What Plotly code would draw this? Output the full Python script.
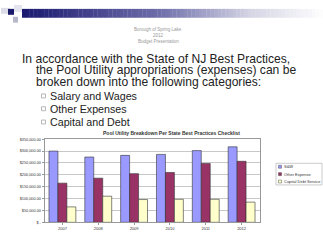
import plotly.graph_objects as go

# ---------------- data ----------------
years = ["2007", "2008", "2009", "2010", "2011", "2012"]
salary_wages = [300000, 275000, 282000, 286000, 302000, 318000]
other_expense = [165000, 186000, 205000, 210000, 248000, 257000]
capital_debt = [65000, 110000, 96000, 97000, 97000, 85000]
series_names = ["S&W", "Other Expense", "Capital Debt Service"]
series_colors = ["#9999FF", "#993366", "#FFFFCC"]
ytick_vals = [0, 50000, 100000, 150000, 200000, 250000, 300000, 350000]
ytick_text = ["$ -", "$50,000.00", "$100,000.00", "$150,000.00",
              "$200,000.00", "$250,000.00", "$300,000.00", "$350,000.00"]
chart_title = "Pool Utility Breakdown Per State Best Practices Checklist"
header_lines = ["Borough of Spring Lake", "2012", "Budget Presentation"]
body_lines = ["In accordance with the State of NJ Best Practices,",
              "the Pool Utility appropriations (expenses) can be",
              "broken down into the following categories:"]
bullets = ["Salary and Wages", "Other Expenses", "Capital and Debt"]

W, H = 323, 244


def px(x):
    return x / W


def py(y):
    return 1 - y / H


fig = go.Figure()
for name, vals, col in zip(series_names, [salary_wages, other_expense, capital_debt], series_colors):
    fig.add_trace(go.Bar(x=years, y=vals, name=name, marker_color=col,
                         marker_line=dict(color="#333333", width=0.6)))

shapes = []
annotations = []

# header gradient bar
stops = [(0.0, (26, 26, 112)), (0.45, (110, 110, 170)), (0.75, (212, 212, 228)), (1.0, (255, 255, 255))]


def grad(t):
    for (t0, c0), (t1, c1) in zip(stops[:-1], stops[1:]):
        if t0 <= t <= t1:
            f = (t - t0) / (t1 - t0)
            return "rgb(%d,%d,%d)" % tuple(round(a + (b - a) * f) for a, b in zip(c0, c1))
    return "rgb(255,255,255)"


N = 80
x0, x1 = 22, 323
for i in range(N):
    a = x0 + (x1 - x0) * i / N
    b = x0 + (x1 - x0) * (i + 1) / N + 0.3
    shapes.append(dict(type="rect", xref="paper", yref="paper", x0=px(a), x1=px(b),
                       y0=py(16), y1=py(7), line_width=0, fillcolor=grad(i / N), layer="below"))

# decorative squares
for (a, b, c, d, col) in [(1, 10, 6, 12, "#dcdce8"), (8, 14, 7, 13, "#1a1a6a"),
                          (14, 22, 3, 10, "#e4e4ee"), (13, 18, 15, 21, "#b8b8cc")]:
    shapes.append(dict(type="rect", xref="paper", yref="paper", x0=px(a), x1=px(b),
                       y0=py(d), y1=py(c), line_width=0, fillcolor=col, layer="below"))

# header small text
for txt, yy in zip(header_lines, [28, 34, 40.5]):
    annotations.append(dict(text=txt, x=px(158), y=py(yy), xref="paper", yref="paper",
                            showarrow=False, xanchor="center", yanchor="middle",
                            font=dict(size=4.5, color="#999999", family="Liberation Sans, Arial")))

# body text
for txt, xx, yy in zip(body_lines, [21, 35, 35], [57.5, 69.5, 81.5]):
    annotations.append(dict(text=txt, x=px(xx), y=py(yy), xref="paper", yref="paper",
                            showarrow=False, xanchor="left", yanchor="middle", borderpad=0,
                            font=dict(size=12.1, color="#222222", family="Liberation Sans, Arial")))

# bullets
for txt, yy in zip(bullets, [95.5, 108.5, 122]):
    shapes.append(dict(type="rect", xref="paper", yref="paper", x0=px(41.5), x1=px(45.5),
                       y0=py(yy + 2), y1=py(yy - 2), line=dict(color="#999999", width=0.7),
                       fillcolor="white"))
    annotations.append(dict(text=txt, x=px(49), y=py(yy), xref="paper", yref="paper",
                            showarrow=False, xanchor="left", yanchor="middle", borderpad=0,
                            font=dict(size=10.7, color="#222222", family="Liberation Sans, Arial")))

# chart title
annotations.append(dict(text="<b>" + chart_title + "</b>", x=px(171), y=py(133.5), xref="paper", yref="paper",
                        showarrow=False, xanchor="center", yanchor="middle",
                        font=dict(size=5, color="#333333", family="Liberation Sans, Arial")))

# manual legend
shapes.append(dict(type="rect", xref="paper", yref="paper", x0=px(276), x1=px(322),
                   y0=py(186), y1=py(164), line=dict(color="#aaaaaa", width=0.6), fillcolor="white"))
for name, col, yy in zip(series_names, series_colors, [167.5, 175, 182.5]):
    shapes.append(dict(type="rect", xref="paper", yref="paper", x0=px(278.5), x1=px(281.5),
                       y0=py(yy + 1.5), y1=py(yy - 1.5), line=dict(color="#333333", width=0.4),
                       fillcolor=col))
    annotations.append(dict(text=name, x=px(282.5), y=py(yy), xref="paper", yref="paper",
                            showarrow=False, xanchor="left", yanchor="middle", borderpad=0,
                            font=dict(size=4, color="#333333", family="Liberation Sans, Arial")))

fig.update_layout(
    width=W, height=H,
    margin=dict(l=0, r=0, t=0, b=0),
    paper_bgcolor="white", plot_bgcolor="white",
    barmode="group", bargap=0.25, bargroupgap=0,
    showlegend=False,
    shapes=shapes, annotations=annotations,
    xaxis=dict(domain=[px(44.5), px(259.5)], showline=True, linecolor="#999999", linewidth=0.7,
               mirror=True, ticks="outside", ticklen=2, tickcolor="#999999",
               tickfont=dict(size=4, color="#333333", family="Liberation Sans, Arial"),
               showgrid=False),
    yaxis=dict(domain=[py(224), py(139.5)], range=[0, 350000], tickvals=ytick_vals, ticktext=ytick_text,
               showline=True, linecolor="#999999", linewidth=0.7, mirror=True,
               ticks="outside", ticklen=2, tickcolor="#999999",
               gridcolor="#c8c8c8", gridwidth=0.6, zeroline=False,
               tickfont=dict(size=3.8, color="#333333", family="Liberation Sans, Arial")),
)

fig.write_html("out.html", config={"displayModeBar": False},
               post_script="document.body.style.margin='0px';")
